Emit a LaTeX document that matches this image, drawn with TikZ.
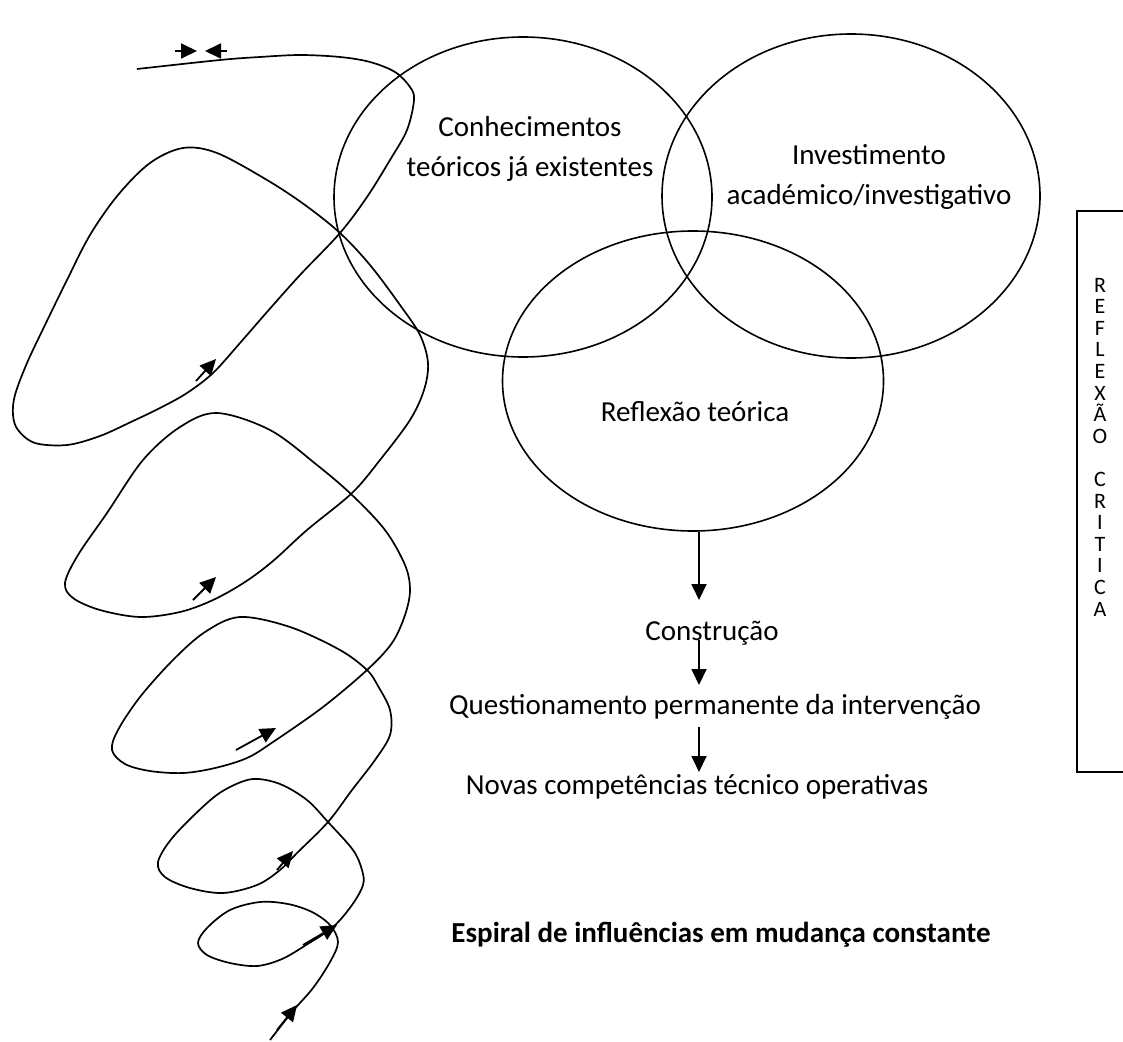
\documentclass[tikz,border=0pt]{standalone}
\usepackage{fontspec}
\setmainfont{Carlito}
\usetikzlibrary{arrows.meta,shapes.geometric}
\begin{document}
\begin{tikzpicture}[x=1pt,y=-1pt,
  line width=1.6pt,
  lbl/.style={font=\fontsize{29}{40}\selectfont, align=center, inner sep=0pt},
  letter/.style={font=\fontsize{22}{24}\selectfont, inner sep=0pt, anchor=base},
  oval/.style={draw, ellipse, inner sep=0pt, line width=1.6pt},
  tip/.style={-{Triangle[length=16pt,width=15pt]}, line width=1.8pt},
  spiral/.style={line width=1.7pt}
]
\useasboundingbox (0,0) rectangle (1123,1041);

% ellipses
\node[oval, minimum width=378pt, minimum height=320pt] (e1) at (523,197) {};
\node[oval, minimum width=378pt, minimum height=324pt] (e2) at (851,196) {};
\node[oval, minimum width=381pt, minimum height=300pt] (e3) at (693,381) {};

\node[lbl] (t1) at (530,149) {Conhecimentos\\teóricos já existentes};
\node[lbl] (t2) at (869,177) {Investimento\\académico/investigativo};
\node[lbl] (t3) at (695,412) {Reflexão teórica};

\node[lbl, anchor=base] (c1) at (712,640) {Construção};
\node[lbl, anchor=base] (c2) at (715,714) {Questionamento permanente da intervenção};
\node[lbl, anchor=base] (c3) at (697,794) {Novas competências técnico operativas};
\node[lbl, anchor=base, font=\fontsize{29}{40}\selectfont\bfseries] (title) at (721,942) {Espiral de influências em mudança constante};

% down arrows
\coordinate (d1s) at (699,532);
\coordinate (d1e) at (699,600);
\coordinate (d2s) at (699,640);
\coordinate (d2e) at (699,685);
\coordinate (d3s) at (699,727);
\coordinate (d3e) at (699,772);
\draw[tip] (d1s) -- (d1e);
\draw[tip] (d2s) -- (d2e);
\draw[tip] (d3s) -- (d3e);

% right box
\coordinate (b1) at (1126,211);
\coordinate (b2) at (1077,211);
\coordinate (b3) at (1077,772);
\coordinate (b4) at (1126,772);
\draw[line width=1.4pt] (b1) -- (b2) -- (b3) -- (b4);
\foreach \ch [count=\i] in {R,E,F,L,E,X,Ã,O,{},C,R,I,T,I,C,A}
  \node[letter] (l\i) at (1100,{292+21.6*(\i-1)}) {\ch};

% spiral
\draw[spiral] plot[smooth, tension=0.55] coordinates {
(270,1040) (292,1012) (313,988) (330,962) (338,942) (330,925) (312,912) (288,904) (260,902) (230,910) (207,928) (198,943) (207,955) (230,963) (257,966) (282,959) (306,945) (333,927) (352,905) (363,885) (362,870) (353,850) (328,822) (307,800) (280,784) (253,779) (228,788) (207,803) (173,837) (158,862) (165,877) (190,888) (223,893) (257,885) (280,870) (297,853) (328,822) (352,790) (375,760) (390,735) (390,710) (378,686) (367,670) (340,650) (290,627) (240,617) (205,632) (173,660) (140,697) (118,730) (112,750) (125,764) (150,771) (183,773) (215,768) (247,758) (273,742) (323,707) (367,670) (392,643) (405,615) (410,590) (405,565) (385,530) (352,495) (317,465) (270,430) (217,413) (180,427) (143,460) (107,513) (78,555) (65,583) (73,598) (100,610) (140,617) (180,612) (213,600) (245,582) (273,561) (307,530) (352,493) (380,460) (410,420) (424,390) (428,363) (420,335) (400,305) (370,265) (340,233) (305,205) (267,180) (217,153) (183,148) (150,163) (118,195) (90,235) (67,280) (45,325) (27,363) (15,395) (13,415) (18,430) (35,443) (67,445) (100,436) (133,421) (160,408) (187,393) (213,373) (240,343) (267,312) (300,275) (340,233) (367,197) (390,160) (407,130) (414,100) (410,87) (395,72) (370,62) (340,57) (300,55) (260,57) (220,60) (137,69)
};

% small arrows along the spiral
\coordinate (a1s) at (196,381); \coordinate (a1e) at (216,359);
\coordinate (a2s) at (193,600); \coordinate (a2e) at (216,577);
\coordinate (a3s) at (236,750); \coordinate (a3e) at (276,728);
\coordinate (a4s) at (277,870); \coordinate (a4e) at (293,851);
\coordinate (a5s) at (303,945); \coordinate (a5e) at (337,925);
\coordinate (a6s) at (277,1030); \coordinate (a6e) at (297,1005);
\foreach \k in {1,...,6} \draw[tip] (a\k s) -- (a\k e);

% top pair of arrows
\coordinate (p1s) at (175,51); \coordinate (p1e) at (197,51);
\coordinate (p2s) at (227,51); \coordinate (p2e) at (205,51);
\draw[tip] (p1s) -- (p1e);
\draw[tip] (p2s) -- (p2e);
\end{tikzpicture}
\end{document}
